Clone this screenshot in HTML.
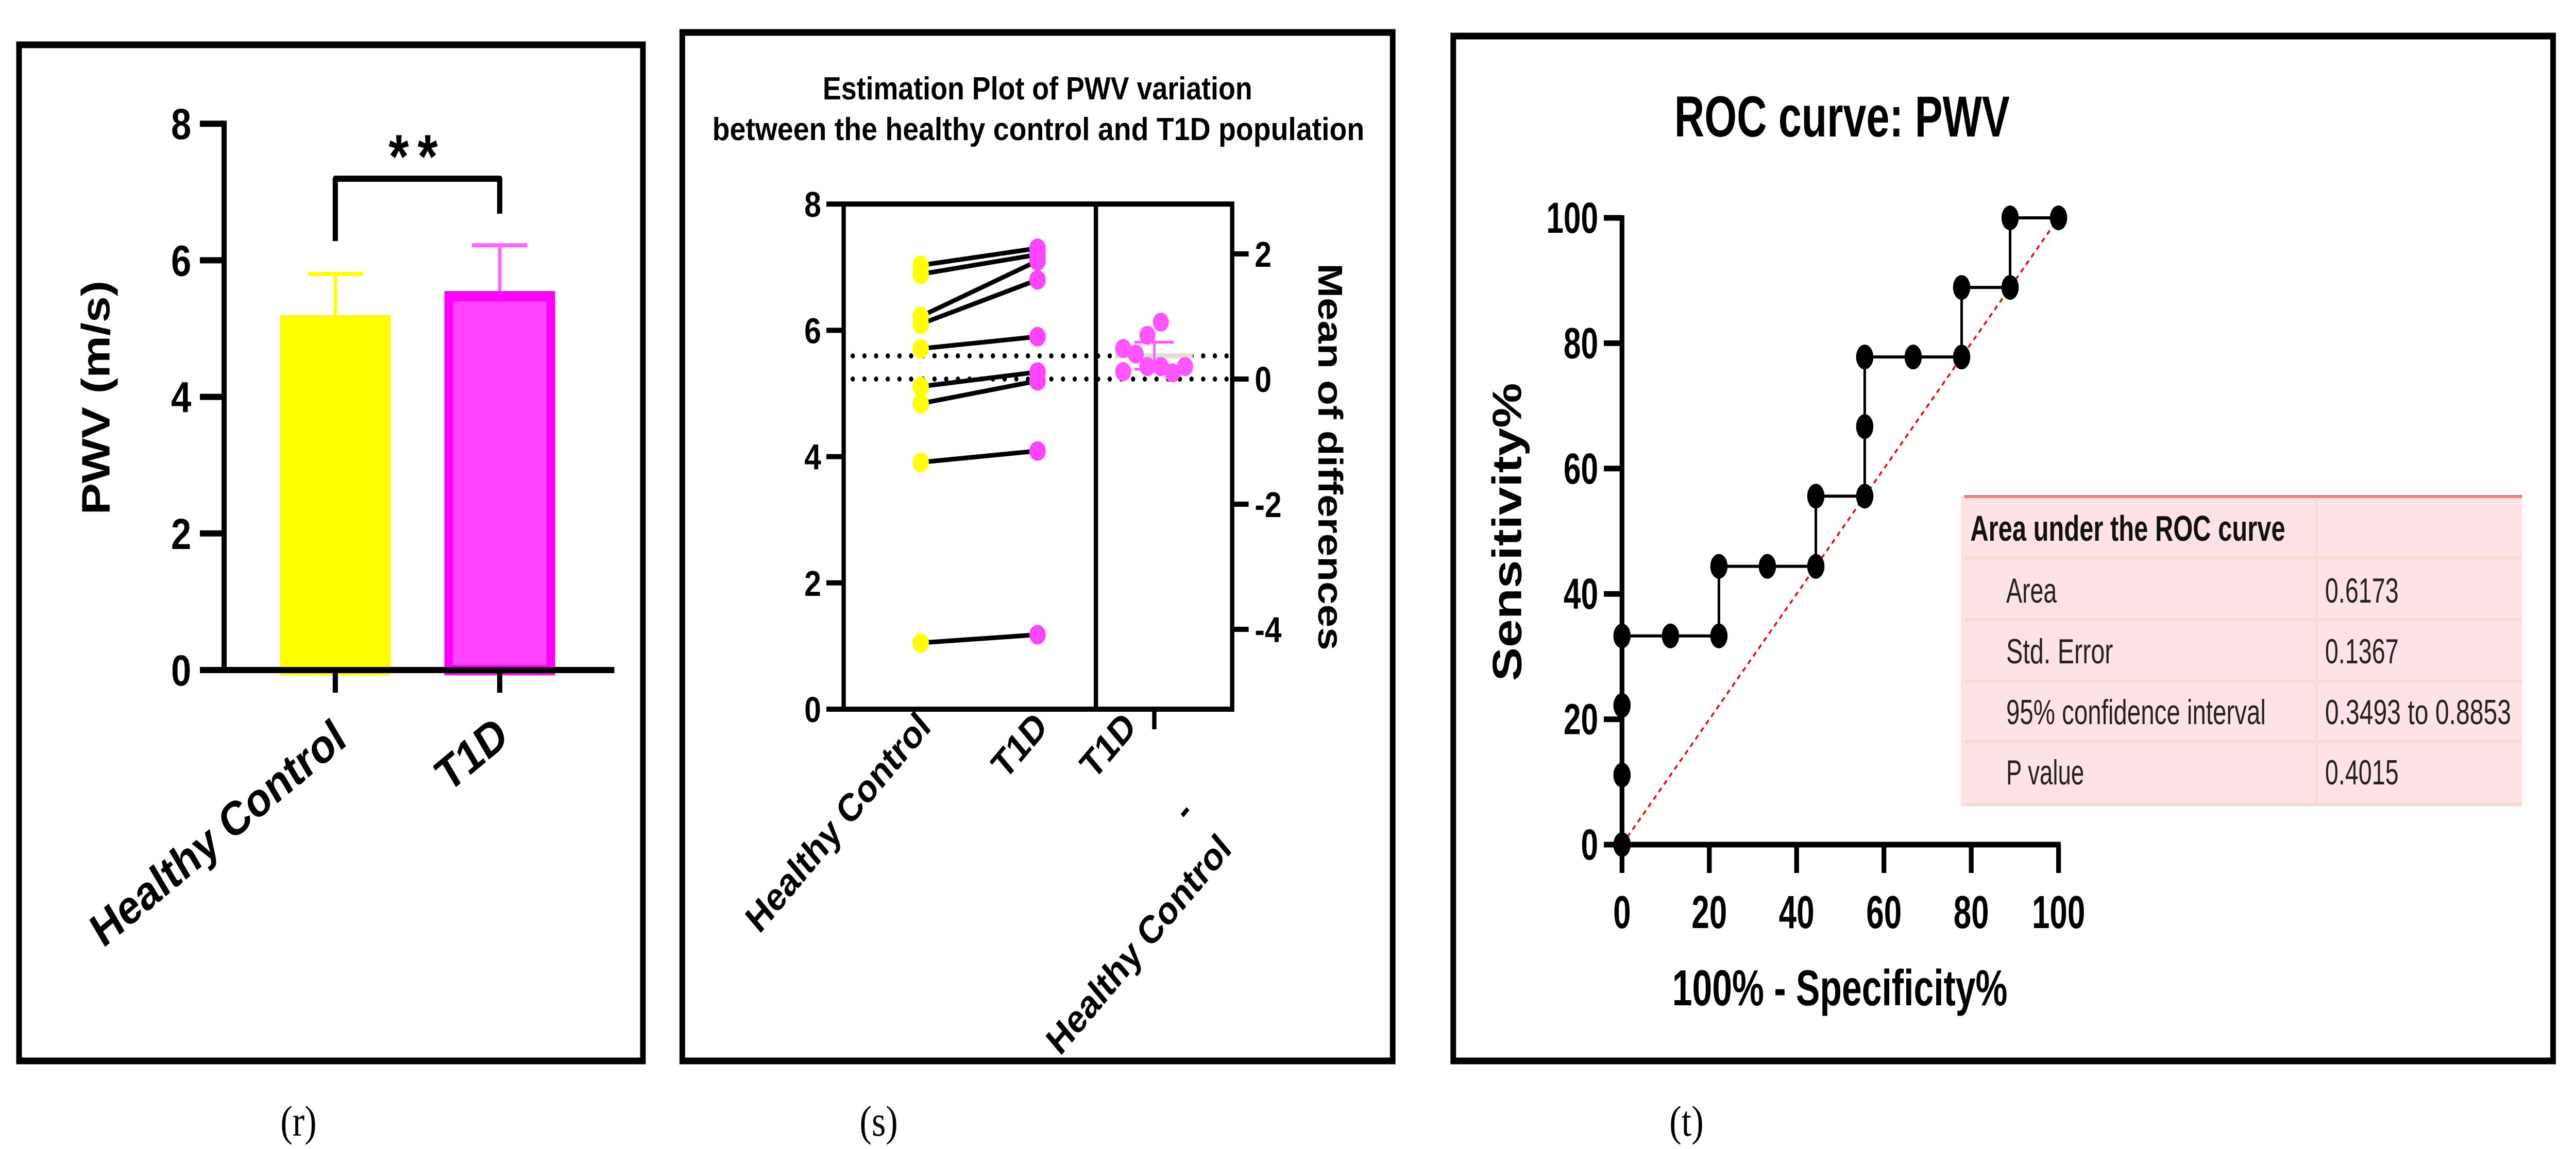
<!DOCTYPE html>
<html><head><meta charset="utf-8">
<style>
html,body{margin:0;padding:0;background:#fff;width:100%;height:100%;overflow:hidden;}
svg{display:block;width:100vw;height:100vh;}
text{font-family:"Liberation Sans",Arial,sans-serif;}
.serif{font-family:"Liberation Serif","Times New Roman",serif;}
</style></head>
<body>
<svg id="fig" viewBox="0 0 5954 2231" preserveAspectRatio="none" xmlns="http://www.w3.org/2000/svg">
<rect x="0" y="0" width="5954" height="2231" fill="#fff"/>
<rect x="44" y="87" width="1442" height="1973" fill="none" stroke="#000" stroke-width="13"/>
<rect x="1577" y="63" width="1642" height="1997" fill="none" stroke="#000" stroke-width="13"/>
<rect x="3359" y="70" width="2542" height="1990" fill="none" stroke="#000" stroke-width="13"/>
<text class="serif" x="690" y="2205" font-size="84" text-anchor="middle">(r)</text>
<text class="serif" x="2031" y="2205" font-size="84" text-anchor="middle">(s)</text>
<text class="serif" x="3898" y="2205" font-size="84" text-anchor="middle">(t)</text>

<g id="pr"></g>
<g id="ps"></g>
<g id="pt"></g>
</svg>
<script>
// ---------- Panel r data ----------
const barCategories = ["Healthy Control", "T1D"];
const barMeans = [5.2, 5.55];
const barErrUpper = [5.8, 6.22];
const barTicks = [0, 2, 4, 6, 8];

// ---------- Panel s data ----------
const pairCategories = ["Healthy Control", "T1D"];
const hcValues = [7.03, 6.89, 6.22, 6.10, 5.71, 5.11, 4.84, 3.91, 1.05];
const t1dValues = [7.30, 7.20, 7.10, 6.80, 5.90, 5.34, 5.20, 4.09, 1.18];
const diffValues = [0.49, 0.12, 0.40, 0.70, 0.91, 0.20, 0.20, 0.10, 0.20];
const diffMean = 0.37;
const diffCI = [0.16, 0.59];
const leftTicks = [0, 2, 4, 6, 8];
const rightTicks = [2, 0, -2, -4];

// ---------- Panel t data ----------
const rocFpr = [0, 0, 0, 0, 11.1, 22.2, 22.2, 33.3, 44.4, 44.4, 55.6, 55.6, 55.6, 66.7, 77.8, 77.8, 88.9, 88.9, 100];
const rocTpr = [0, 11.1, 22.2, 33.3, 33.3, 33.3, 44.4, 44.4, 44.4, 55.6, 55.6, 66.7, 77.8, 77.8, 77.8, 88.9, 88.9, 100, 100];
const rocTicks = [0, 20, 40, 60, 80, 100];
const tableLabels = ["Area", "Std. Error", "95% confidence interval", "P value"];
const tableValues = ["0.6173", "0.1367", "0.3493 to 0.8853", "0.4015"];

const NS = "http://www.w3.org/2000/svg";
function mk(tag, attrs, parent, txt) {
  const e = document.createElementNS(NS, tag);
  for (const k in attrs) e.setAttribute(k, attrs[k]);
  if (txt !== undefined) e.textContent = txt;
  parent.appendChild(e);
  return e;
}

// ================= Panel r =================
(function () {
  const g = document.getElementById("pr");
  const y = v => 1301 - v * 132.6;
  const xc = [775, 1155];
  const bw = 256;
  let e = mk("line", {x1: 518, y1: y(8) - 6, x2: 518, y2: y(0) + 6, stroke: "#000", "stroke-width": 12}, g);
  
  
  barTicks.forEach(t => {
    let tk = mk("line", {x1: 462, y1: y(t), x2: 518, y2: y(t), stroke: "#000", "stroke-width": 12}, g);
    
    
    let tl = mk("text", {x: 442, y: y(t) + 30, "font-size": 84, "font-weight": "bold", "text-anchor": "end"}, g, String(t));
    
    
  });
  const fills = ["#ffff00", "#ff44ff"];
  const strokes = ["#ffff00", "#ff00ff"];
  const errCol = ["#ffff00", "#ff66ff"];
  barMeans.forEach((m, i) => {
    let b = mk("rect", {x: xc[i] - bw / 2 + 10, y: y(m) + 10, width: bw - 20, height: y(0) - y(m) - 10, fill: fills[i], stroke: strokes[i], "stroke-width": 20}, g);
    
    
    let ev = mk("line", {x1: xc[i], y1: y(barErrUpper[i]), x2: xc[i], y2: y(m), stroke: errCol[i], "stroke-width": 8}, g);
    
    
    let ec = mk("line", {x1: xc[i] - 64, y1: y(barErrUpper[i]), x2: xc[i] + 64, y2: y(barErrUpper[i]), stroke: errCol[i], "stroke-width": 8}, g);
    
    
    let xt = mk("line", {x1: xc[i], y1: y(0), x2: xc[i], y2: 1345, stroke: "#000", "stroke-width": 12}, g);
    
    
  });
  e = mk("line", {x1: 462, y1: y(0), x2: 1420, y2: y(0), stroke: "#000", "stroke-width": 12}, g);
  
  
  const anchors = [[805, 1445], [1180, 1440]];
  barCategories.forEach((c, i) => {
    let t = mk("text", {transform: `translate(${anchors[i][0]},${anchors[i][1]}) rotate(-35)`, "font-size": 93, "font-weight": "bold", "text-anchor": "end"}, g, c);
    
    
  });
  let br = mk("path", {d: `M${xc[0]},468 V347 H${xc[1]} V415`, fill: "none", stroke: "#000", "stroke-width": 12, "stroke-linejoin": "round"}, g);
  
  
  let st = mk("text", {x: 965, y: 345, "font-size": 120, "font-weight": "bold", "text-anchor": "middle", "letter-spacing": 20}, g, "**");
  
  
  let yt = mk("text", {transform: "translate(253,772) rotate(-90)", "font-size": 92, "font-weight": "bold", "text-anchor": "middle"}, g, "PWV (m/s)");
  
  
})();

// ================= Panel s =================
(function () {
  const g = document.getElementById("ps");
  const y = v => 1377 - v * 122.6;
  const yd = d => 736 - d * 121.5;
  const xHC = 2128, xT = 2398;
  let t1 = mk("text", {x: 2398, y: 193, "font-size": 62, "font-weight": "bold", "text-anchor": "middle", textLength: 993, lengthAdjust: "spacingAndGlyphs"}, g, "Estimation Plot of PWV variation");
  
  
  let t2 = mk("text", {x: 2400, y: 272, "font-size": 62, "font-weight": "bold", "text-anchor": "middle", textLength: 1507, lengthAdjust: "spacingAndGlyphs"}, g, "between the healthy control and T1D population");
  
  
  [diffMean, 0].forEach(d => {
    let dl = mk("line", {x1: 1971, y1: yd(d), x2: 2848, y2: yd(d), stroke: "#000", "stroke-width": 10, "stroke-linecap": "round", "stroke-dasharray": "0 27"}, g);
    
    
  });
  let bx = mk("rect", {x: 1950, y: y(8), width: 898, height: y(0) - y(8), fill: "none", stroke: "#000", "stroke-width": 10}, g);
  
  
  let dv = mk("line", {x1: 2533, y1: y(8), x2: 2533, y2: y(0), stroke: "#000", "stroke-width": 10}, g);
  
  
  leftTicks.forEach(t => {
    let tk = mk("line", {x1: 1910, y1: y(t), x2: 1950, y2: y(t), stroke: "#000", "stroke-width": 10}, g);
    
    
    let tl = mk("text", {x: 1898, y: y(t) + 25, "font-size": 70, "font-weight": "bold", "text-anchor": "end"}, g, String(t));
    
    
  });
  rightTicks.forEach(t => {
    let tk = mk("line", {x1: 2848, y1: yd(t), x2: 2886, y2: yd(t), stroke: "#000", "stroke-width": 10}, g);
    
    
    let tl = mk("text", {x: 2900, y: yd(t) + 25, "font-size": 70, "font-weight": "bold"}, g, t < 0 ? "-" + Math.abs(t) : String(t));
    
    
  });
  let rt = mk("text", {transform: "translate(3047,887) rotate(90)", "font-size": 80, "font-weight": "bold", "text-anchor": "middle"}, g, "Mean of differences");
  
  
  hcValues.forEach((v, i) => {
    let l = mk("line", {x1: xHC, y1: y(v), x2: xT, y2: y(t1dValues[i]), stroke: "#000", "stroke-width": 9}, g);
    
    
  });
  hcValues.forEach(v => {
    let c = mk("ellipse", {cx: xHC, cy: y(v), rx: 19, ry: 19, fill: "#ffff00"}, g);
    
    
  });
  t1dValues.forEach(v => {
    let c = mk("ellipse", {cx: xT, cy: y(v), rx: 19, ry: 19, fill: "#ff44ff"}, g);
    
    
  });
  let mb = mk("line", {x1: 2577, y1: yd(diffMean), x2: 2757, y2: yd(diffMean), stroke: "#e0ddd5", "stroke-width": 10}, g);
  
  
  const dxs = [2596, 2596, 2625, 2652, 2683, 2652, 2683, 2710, 2739];
  diffValues.forEach((d, i) => {
    let c = mk("circle", {cx: dxs[i], cy: yd(d), r: 18.5, fill: "#ff55ff"}, g);
    
    
  });
  let ci = mk("path", {d: `M2622,${yd(diffCI[1])} H2713 M2668,${yd(diffCI[1])} V${yd(diffCI[0])} M2622,${yd(diffCI[0])} H2713`, stroke: "#ff55ff", "stroke-width": 5, fill: "none"}, g);
  
  
  let xt = mk("line", {x1: 2668, y1: y(0), x2: 2668, y2: 1416, stroke: "#000", "stroke-width": 10}, g);
  
  
  const labs = [["Healthy Control", 2155, 1415], ["T1D", 2425, 1415], ["T1D", 2630, 1415], ["-", 2762, 1582], ["Healthy Control", 2850, 1652]];
  labs.forEach(a => {
    let t = mk("text", {transform: `translate(${a[1]},${a[2]}) rotate(-45)`, "font-size": 76, "font-weight": "bold", "text-anchor": "end"}, g, a[0]);
    
    
  });
})();

// ================= Panel t =================
(function () {
  const g = document.getElementById("pt");
  const x = p => 3749 + p * 10.09;
  const y = p => 1640 - p * 12.17;
  let ti = mk("text", {x: 3870, y: 265, "font-size": 112, "font-weight": "bold", textLength: 775, lengthAdjust: "spacingAndGlyphs"}, g, "ROC curve: PWV");
  
  
  let tb = mk("rect", {x: 4532, y: 964, width: 1297, height: 602, fill: "#fde3e5"}, g);
  
  
  let tl = mk("line", {x1: 4540, y1: 964, x2: 5829, y2: 964, stroke: "#e88080", "stroke-width": 6}, g);
  
  
  let cd = mk("line", {x1: 5354, y1: 967, x2: 5354, y2: 1566, stroke: "#f6dbd2", "stroke-width": 6}, g);
  
  
  [1083, 1203, 1323, 1440, 1562].forEach(ry => {
    let rl = mk("line", {x1: 4540, y1: ry, x2: 5829, y2: ry, stroke: "#f6dbd2", "stroke-width": 6}, g);
    
    
  });
  let th = mk("text", {x: 4554, y: 1050, "font-size": 70, "font-weight": "bold", fill: "#111", textLength: 728, lengthAdjust: "spacingAndGlyphs"}, g, "Area under the ROC curve");
  
  
  const lw = [117, 247, 600, 180];
  const vw = [170, 170, 430, 170];
  const rys = [1170, 1288, 1406, 1523];
  tableLabels.forEach((s, i) => {
    let a = mk("text", {x: 4637, y: rys[i], "font-size": 68, fill: "#222", textLength: lw[i], lengthAdjust: "spacingAndGlyphs"}, g, s);
    
    
    let b = mk("text", {x: 5374, y: rys[i], "font-size": 68, fill: "#222", textLength: vw[i], lengthAdjust: "spacingAndGlyphs"}, g, tableValues[i]);
    
    
  });
  let dg = mk("line", {x1: x(0), y1: y(0), x2: x(100), y2: y(100), stroke: "#ff0000", "stroke-width": 4, "stroke-dasharray": "10 9"}, g);
  
  
  let ya = mk("line", {x1: x(0), y1: y(100) - 5, x2: x(0), y2: y(0), stroke: "#000", "stroke-width": 11}, g);
  
  
  let xa = mk("line", {x1: x(0), y1: y(0), x2: x(100) + 5, y2: y(0), stroke: "#000", "stroke-width": 11}, g);
  
  
  rocTicks.forEach(t => {
    let a = mk("line", {x1: 3707, y1: y(t), x2: x(0), y2: y(t), stroke: "#000", "stroke-width": 11}, g);
    
    
    let al = mk("text", {x: 3694, y: y(t) + 29, "font-size": 84, "font-weight": "bold", "text-anchor": "end", textLength: String(t).length * 40, lengthAdjust: "spacingAndGlyphs"}, g, String(t));
    
    
    let b = mk("line", {x1: x(t), y1: y(0), x2: x(t), y2: 1695, stroke: "#000", "stroke-width": 11}, g);
    
    
    let bl = mk("text", {x: x(t), y: 1802, "font-size": 90, "font-weight": "bold", "text-anchor": "middle", textLength: String(t).length * 41, lengthAdjust: "spacingAndGlyphs"}, g, String(t));
    
    
  });
  let xt = mk("text", {x: 3865, y: 1952, "font-size": 98, "font-weight": "bold", textLength: 775, lengthAdjust: "spacingAndGlyphs"}, g, "100% - Specificity%");
  
  
  let yt = mk("text", {transform: "translate(3516,1033) rotate(-90)", "font-size": 95, "font-weight": "bold", "text-anchor": "middle", textLength: 579, lengthAdjust: "spacingAndGlyphs"}, g, "Sensitivity%");
  
  
  let d = rocFpr.map((f, i) => (i ? "L" : "M") + x(f) + "," + y(rocTpr[i])).join(" ");
  let cv = mk("path", {d: d, fill: "none", stroke: "#000", "stroke-width": 6}, g);
  
  
  rocFpr.forEach((f, i) => {
    let p = mk("ellipse", {cx: x(f), cy: y(rocTpr[i]), rx: 20, ry: 24, fill: "#000"}, g);
    
    
  });
})();
</script>
</body></html>
